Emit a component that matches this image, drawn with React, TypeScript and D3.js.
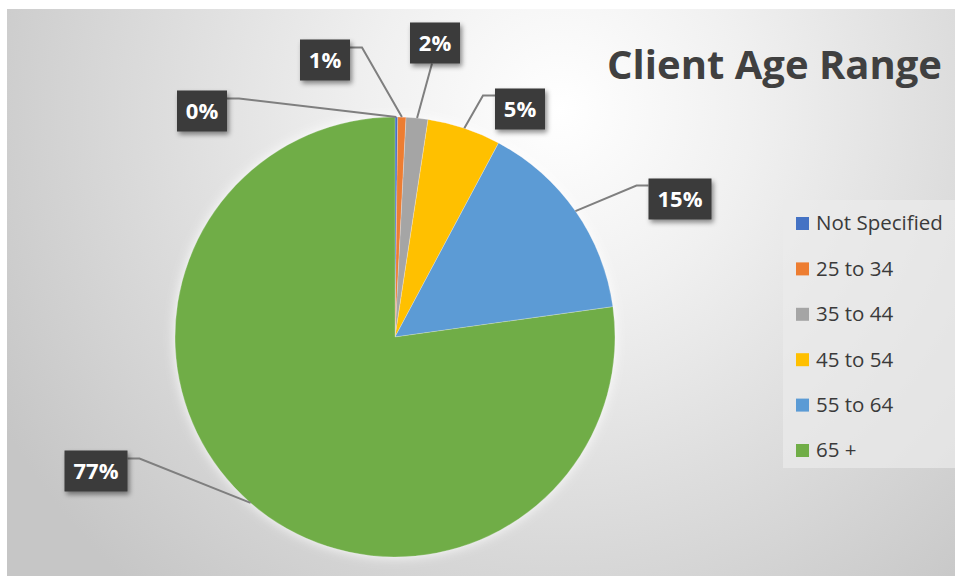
import React, { useEffect, useRef } from 'react';
import * as d3 from 'd3';

// Chart data
const categories = ['Not Specified', '25 to 34', '35 to 44', '45 to 54', '55 to 64', '65 +'];
const shares = [0.2, 0.6, 1.6, 5.4, 15.0, 77.2];
const colors = ['#4472C4', '#ED7D31', '#A5A5A5', '#FFC000', '#5B9BD5', '#70AD47'];

// Manually placed data label boxes, offsets from the pie centre (px)
const labelOffsets: Array<[number, number]> = [
  [-193, -226],
  [-70, -277],
  [40, -294],
  [125, -228],
  [285, -138],
  [-299, 134],
];

const WIDTH = 955;
const HEIGHT = 576;

const App: React.FC = () => {
  const svgRef = useRef<SVGSVGElement>(null);

  useEffect(() => {
    if (!svgRef.current) return;
    const svg = d3.select(svgRef.current);
    svg.selectAll('*').remove();

    const cx = 395;
    const cy = 337;
    const radius = 220;
    const font = '"Open Sans", "Segoe UI", sans-serif';

    const defs = svg.append('defs');
    const grad = defs.append('radialGradient')
      .attr('id', 'bg')
      .attr('gradientUnits', 'userSpaceOnUse')
      .attr('cx', 560).attr('cy', 110).attr('r', 640);
    grad.append('stop').attr('offset', 0).attr('stop-color', '#ffffff');
    grad.append('stop').attr('offset', 0.3).attr('stop-color', '#f0f0f0');
    grad.append('stop').attr('offset', 1).attr('stop-color', '#c6c6c6');

    const pieShadow = defs.append('filter').attr('id', 'pieShadow')
      .attr('x', '-20%').attr('y', '-20%').attr('width', '140%').attr('height', '140%');
    pieShadow.append('feDropShadow')
      .attr('dx', 0).attr('dy', 0).attr('stdDeviation', 6)
      .attr('flood-color', '#ffffff').attr('flood-opacity', 0.9);

    const boxShadow = defs.append('filter').attr('id', 'boxShadow')
      .attr('x', '-30%').attr('y', '-30%').attr('width', '160%').attr('height', '160%');
    boxShadow.append('feDropShadow')
      .attr('dx', 2).attr('dy', 3).attr('stdDeviation', 2.5)
      .attr('flood-color', '#000000').attr('flood-opacity', 0.45);

    // Background
    svg.append('rect')
      .attr('x', 7).attr('y', 9)
      .attr('width', WIDTH - 7).attr('height', HEIGHT - 9)
      .attr('fill', 'url(#bg)');

    // Title
    svg.append('text')
      .attr('x', 942)
      .attr('y', 79)
      .attr('text-anchor', 'end')
      .style('font-family', font)
      .style('font-size', '40px')
      .style('font-weight', 'bold')
      .style('fill', '#404040')
      .text('Client Age Range');

    // Pie
    const pie = d3.pie<number>().sort(null).value(d => d);
    const arcs = pie(shares);
    const arc = d3.arc<d3.PieArcDatum<number>>().innerRadius(0).outerRadius(radius);

    const g = svg.append('g').attr('transform', `translate(${cx},${cy})`);
    g.append('g')
      .attr('filter', 'url(#pieShadow)')
      .selectAll('path')
      .data(arcs)
      .enter()
      .append('path')
      .attr('d', arc)
      .attr('fill', (_, i) => colors[i])
      .attr('stroke', '#ffffff')
      .attr('stroke-opacity', 0.35)
      .attr('stroke-width', 0.6);

    // Data labels with leader lines
    const total = d3.sum(shares);
    arcs.forEach((a, i) => {
      const mid = (a.startAngle + a.endAngle) / 2;
      const px = cx + radius * Math.sin(mid);
      const py = cy - radius * Math.cos(mid);
      const text = `${Math.round((shares[i] / total) * 100)}%`;
      const w = text.length > 2 ? 63 : 50;
      const h = 41;
      const bx = cx + labelOffsets[i][0] - w / 2;
      const by = cy + labelOffsets[i][1] - h / 2;

      let pts: Array<[number, number]>;
      if (bx + w < px - 20) {
        pts = [[bx + w, by + 8], [bx + w + 12, by + 8], [px, py]];
      } else if (bx > px + 20) {
        pts = [[bx, by + 7], [bx - 12, by + 7], [px, py]];
      } else {
        pts = [[bx + w / 2 - 3, by + h], [px, py]];
      }
      svg.append('path')
        .attr('d', d3.line()(pts))
        .attr('fill', 'none')
        .attr('stroke', '#7f7f7f')
        .attr('stroke-width', 2);

      svg.append('rect')
        .attr('x', bx).attr('y', by)
        .attr('width', w).attr('height', h)
        .attr('fill', '#3a3a3a')
        .attr('filter', 'url(#boxShadow)');

      svg.append('text')
        .attr('x', bx + w / 2)
        .attr('y', by + h / 2)
        .attr('dy', '0.36em')
        .attr('text-anchor', 'middle')
        .style('font-family', font)
        .style('font-size', '22px')
        .style('font-weight', 'bold')
        .style('fill', '#ffffff')
        .text(text);
    });

    // Legend
    const legend = svg.append('g');
    legend.append('rect')
      .attr('x', 783).attr('y', 200)
      .attr('width', WIDTH - 783).attr('height', 268)
      .attr('fill', '#ebebeb')
      .attr('opacity', 0.7);

    const legendY = d3.scalePoint<string>()
      .domain(categories)
      .range([223, 450]);

    categories.forEach((c, i) => {
      const y = legendY(c) as number;
      legend.append('rect')
        .attr('x', 796).attr('y', y - 6)
        .attr('width', 13).attr('height', 13)
        .attr('fill', colors[i]);
      legend.append('text')
        .attr('x', 816)
        .attr('y', y)
        .attr('dy', '0.36em')
        .style('font-family', font)
        .style('font-size', '20.5px')
        .style('fill', '#3a3a3a')
        .text(c);
    });
  }, []);

  return (
    <svg
      ref={svgRef}
      width={WIDTH}
      height={HEIGHT}
      style={{ position: 'absolute', left: 0, top: 0, background: '#ffffff' }}
    />
  );
};

export default App;
